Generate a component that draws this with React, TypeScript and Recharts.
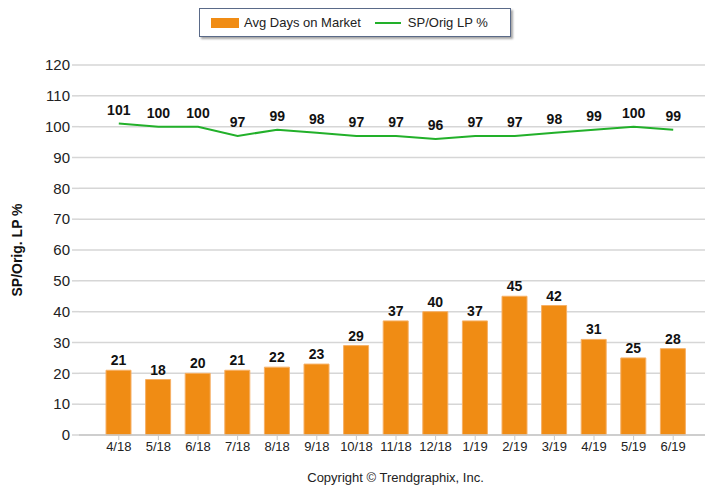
import { Bar, CartesianGrid, ComposedChart, Label, LabelList, Line, XAxis, YAxis } from 'recharts'

const months = ['4/18', '5/18', '6/18', '7/18', '8/18', '9/18', '10/18', '11/18', '12/18', '1/19', '2/19', '3/19', '4/19', '5/19', '6/19']
const avgDays = [21, 18, 20, 21, 22, 23, 29, 37, 40, 37, 45, 42, 31, 25, 28]
const spOrigLp = [101, 100, 100, 97, 99, 98, 97, 97, 96, 97, 97, 98, 99, 100, 99]
const yTicks = [0, 10, 20, 30, 40, 50, 60, 70, 80, 90, 100, 110, 120]

const data = months.map((m, i) => ({ month: m, days: avgDays[i], sp: spOrigLp[i] }))

const FONT = '"Liberation Sans", Arial, sans-serif'
const ORANGE = '#f08c14'
const GREEN = '#22b02a'

function LegendBox() {
  return (
    <div
      style={{
        position: 'absolute',
        left: 199,
        top: 8,
        width: 312,
        height: 29,
        border: '1px solid #5a6a88',
        boxShadow: '2px 2px 2px rgba(0,0,0,0.35)',
        background: '#fff',
        fontFamily: FONT,
        fontSize: 13,
        color: '#222',
        display: 'flex',
        alignItems: 'center',
        boxSizing: 'border-box',
      }}
    >
      <span style={{ display: 'inline-block', width: 28, height: 10, background: ORANGE, marginLeft: 11 }} />
      <span style={{ marginLeft: 5 }}>Avg Days on Market</span>
      <span style={{ display: 'inline-block', width: 26, height: 2, background: GREEN, marginLeft: 14 }} />
      <span style={{ marginLeft: 7 }}>SP/Orig LP %</span>
    </div>
  )
}

export default function App() {
  return (
    <div style={{ position: 'absolute', left: 0, top: 0, width: 705, height: 487, overflow: 'hidden', background: '#fff' }}>
      <ComposedChart width={720} height={487} data={data} margin={{ top: 65, right: 0, left: 0, bottom: 22 }}>
        <CartesianGrid vertical={false} stroke="#d6d6d6" strokeWidth={1.5} />
        <XAxis
          dataKey="month"
          height={30}
          padding={{ left: 20, right: 27 }}
          tick={{ fontFamily: FONT, fontSize: 13, fill: '#222' }}
          tickLine={{ stroke: '#c8c8c8' }}
          tickSize={5}
          axisLine={{ stroke: '#c8c8c8', strokeWidth: 1.5 }}
        >
          <Label
            value="Copyright © Trendgraphix, Inc."
            position="insideBottom"
            offset={-17}
            dx={-4}
            style={{ fontFamily: FONT, fontSize: 13, fill: '#222' }}
          />
        </XAxis>
        <YAxis
          width={79}
          domain={[0, 120]}
          ticks={yTicks}
          interval={0}
          axisLine={false}
          tickSize={7}
          tickLine={{ stroke: '#d6d6d6', strokeWidth: 1.5 }}
          tick={{ fontFamily: FONT, fontSize: 15, fill: '#222' }}
        >
          <Label
            value="SP/Orig. LP %"
            angle={-90}
            position="insideLeft"
            offset={17}
            style={{ fontFamily: FONT, fontSize: 14, fontWeight: 'bold', fill: '#111', textAnchor: 'middle' }}
          />
        </YAxis>
        <Bar dataKey="days" fill={ORANGE} stroke="#f6b066" strokeWidth={1} barSize={25} isAnimationActive={false}>
          <LabelList dataKey="days" position="top" offset={5} style={{ fontFamily: FONT, fontSize: 14, fontWeight: 'bold', fill: '#111' }} />
        </Bar>
        <Line
          dataKey="sp"
          stroke={GREEN}
          strokeWidth={2}
          dot={false}
          type="linear"
          isAnimationActive={false}
        >
          <LabelList dataKey="sp" position="top" offset={9} style={{ fontFamily: FONT, fontSize: 14, fontWeight: 'bold', fill: '#111' }} />
        </Line>
      </ComposedChart>
      <LegendBox />
    </div>
  )
}
